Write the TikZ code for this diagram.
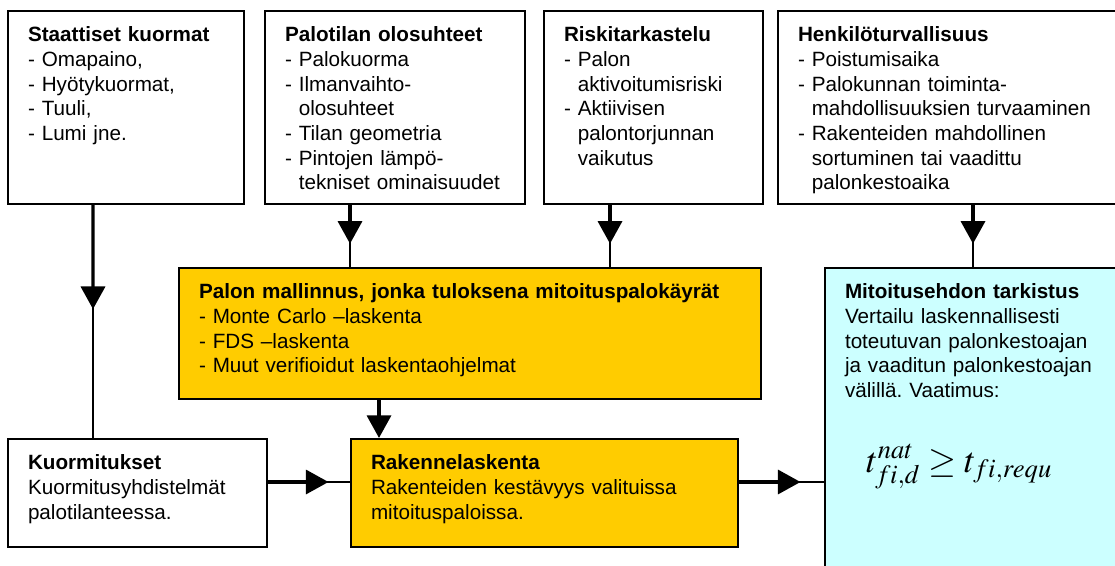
\documentclass[tikz,border=0pt]{standalone}
\usepackage{mathptmx}
\usepackage{fontspec}
\setmainfont{Liberation Sans}
\usetikzlibrary{arrows.meta, calc}
\definecolor{palokeltainen}{HTML}{FFCC00}
\definecolor{tarkistussininen}{HTML}{CCFFFF}
\frenchspacing

\newcommand{\ind}{\hphantom{- }}

\begin{document}
\begin{tikzpicture}[x=0.75pt, y=-0.75pt,
        box/.style={draw, line width=1.5pt, anchor=north west, align=left,
                    inner xsep=15pt, inner ysep=12pt, text height=11pt,
                    font=\fontsize{15.5}{18.5}\selectfont},
        topbox/.style={box, text depth=109.75pt},
        lowbox/.style={box, text depth=46pt},
        link/.style={line width=1.5pt},
        feed/.style={line width=2.6pt, -{Triangle[length=17pt, width=18pt]}}
    ]
    \useasboundingbox (0,0) rectangle (1115,565);
    \clip (0,0) rectangle (1115,565);

    % lähtötiedot
    \node[topbox, text width=147pt] (staat) at (7,10)
        {\textbf{Staattiset kuormat}\\- Omapaino,\\- Hyötykuormat,\\- Tuuli,\\- Lumi jne.};
    \node[topbox, text width=165pt] (palot) at (264,10)
        {\textbf{Palotilan olosuhteet}\\- Palokuorma\\- Ilmanvaihto-\\\ind olosuhteet\\- Tilan geometria\\- Pintojen lämpö-\\\ind tekniset ominaisuudet};
    \node[topbox, text width=134.25pt] (riski) at (543,10)
        {\textbf{Riskitarkastelu}\\- Palon\\\ind aktivoitumisriski\\- Aktiivisen\\\ind palontorjunnan\\\ind vaikutus};
    \node[topbox, text width=231pt] (henk) at (777,10)
        {\textbf{Henkilöturvallisuus}\\- Poistumisaika\\- Palokunnan toiminta-\\\ind mahdollisuuksien turvaaminen\\- Rakenteiden mahdollinen\\\ind sortuminen tai vaadittu\\\ind palonkestoaika};

    % laskenta
    \node[box, fill=palokeltainen, text width=406.5pt, text depth=63.25pt] (mall) at (178,267)
        {\textbf{Palon mallinnus, jonka tuloksena mitoituspalokäyrät}\\- Monte Carlo –laskenta\\- FDS –laskenta\\- Muut verifioidut laskentaohjelmat};
    \node[lowbox, text width=164.25pt] (kuor) at (7,438)
        {\textbf{Kuormitukset}\\Kuormitusyhdistelmät\\palotilanteessa.};
    \node[lowbox, fill=palokeltainen, text width=260.25pt] (rak) at (350,438)
        {\textbf{Rakennelaskenta}\\Rakenteiden kestävyys valituissa\\mitoituspaloissa.};
    \node[box, fill=tarkistussininen, text width=199.5pt, text depth=199.75pt] (mito) at (824,267)
        {\textbf{Mitoitusehdon tarkistus}\\Vertailu laskennallisesti\\toteutuvan palonkestoajan\\ja vaaditun palonkestoajan\\välillä. Vaatimus:};
    \node[anchor=base west, inner sep=0pt] (vaat) at (866,472)
        {\fontsize{27}{32}\selectfont $t^{nat}_{fi,d} \geq t_{fi,requ}$};

    % yhteydet
    \draw[link] ([xshift=64.5pt]staat.south west) -- ([xshift=64.5pt]kuor.north west);
    \draw[feed] ([xshift=64.5pt]staat.south west) -- ($([xshift=64.5pt]staat.south west)!0.447!([xshift=64.5pt]kuor.north west)$);
    \draw[link] ([xshift=64.5pt]palot.south west) -- ([xshift=129pt]mall.north west);
    \draw[feed] ([xshift=64.5pt]palot.south west) -- ($([xshift=64.5pt]palot.south west)!0.625!([xshift=129pt]mall.north west)$);
    \draw[link] ([xshift=50.25pt]riski.south west) -- ([xshift=324pt]mall.north west);
    \draw[feed] ([xshift=50.25pt]riski.south west) -- ($([xshift=50.25pt]riski.south west)!0.625!([xshift=324pt]mall.north west)$);
    \draw[link] ([xshift=147pt]henk.south west) -- ([xshift=111.75pt]mito.north west);
    \draw[feed] ([xshift=147pt]henk.south west) -- ($([xshift=147pt]henk.south west)!0.625!([xshift=111.75pt]mito.north west)$);
    \draw[feed] ([xshift=150.75pt]mall.south west) -- ([xshift=21.75pt]rak.north west);
    \draw[link] ([yshift=-33pt]kuor.north east) -- ([yshift=-33pt]rak.north west);
    \draw[feed] ([yshift=-33pt]kuor.north east) -- ($([yshift=-33pt]kuor.north east)!0.738!([yshift=-33pt]rak.north west)$);
    \draw[link] ([yshift=-33pt]rak.north east) -- ([yshift=-161.25pt]mito.north west);
    \draw[feed] ([yshift=-33pt]rak.north east) -- ($([yshift=-33pt]rak.north east)!0.724!([yshift=-161.25pt]mito.north west)$);
\end{tikzpicture}
\end{document}
